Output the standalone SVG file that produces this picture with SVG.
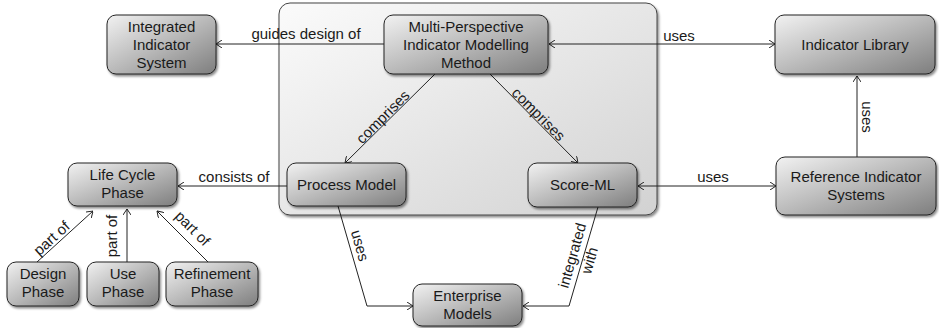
<svg xmlns="http://www.w3.org/2000/svg" width="939" height="328" viewBox="0 0 939 328">
<defs>
<linearGradient id="ng" x1="0" y1="0" x2="1" y2="1">
<stop offset="0" stop-color="#f2f2f2"/>
<stop offset="0.5" stop-color="#b9b9b9"/>
<stop offset="1" stop-color="#7e7e7e"/>
</linearGradient>
<linearGradient id="cg" x1="0" y1="0" x2="1" y2="1">
<stop offset="0" stop-color="#fbfbfb"/>
<stop offset="1" stop-color="#d2d2d2"/>
</linearGradient>
<filter id="sh" x="-10%" y="-10%" width="130%" height="140%">
<feDropShadow dx="1.5" dy="2" stdDeviation="1" flood-color="#000" flood-opacity="0.45"/>
</filter>
<marker id="ar" viewBox="0 0 6 8" refX="6" refY="4" markerWidth="6" markerHeight="8" markerUnits="userSpaceOnUse" orient="auto-start-reverse">
<path d="M0,0 L6,4 L0,8" fill="none" stroke="#222" stroke-width="1"/>
</marker>
</defs>
<style>
.n rect{fill:url(#ng);stroke:#222;stroke-width:1;filter:url(#sh)}
text{font-family:"Liberation Sans",Arial,sans-serif;font-size:15px;fill:#1a1a1a}
.n text{text-anchor:middle}
.c path,.c line{fill:none;stroke:#222;stroke-width:1}
.l text{text-anchor:middle}
</style>
<g id="container">
<rect x="279" y="3" width="378" height="212" rx="11" fill="url(#cg)" stroke="#444" stroke-width="1" filter="url(#sh)"/>
</g>
<g class="c" id="connectors">
<line x1="384" y1="44" x2="216" y2="44" marker-end="url(#ar)"/>
<line x1="549" y1="44" x2="775" y2="44" marker-start="url(#ar)" marker-end="url(#ar)"/>
<line x1="857" y1="157" x2="857" y2="76" marker-end="url(#ar)"/>
<line x1="435" y1="74" x2="345" y2="163" marker-end="url(#ar)"/>
<line x1="490" y1="74" x2="578" y2="163" marker-end="url(#ar)"/>
<line x1="287" y1="186" x2="178" y2="186" marker-end="url(#ar)"/>
<line x1="638" y1="186" x2="776" y2="186" marker-start="url(#ar)" marker-end="url(#ar)"/>
<line x1="37" y1="262" x2="93" y2="211" marker-end="url(#ar)"/>
<line x1="127" y1="262" x2="127" y2="209" marker-end="url(#ar)"/>
<line x1="208" y1="262" x2="157" y2="211" marker-end="url(#ar)"/>
<path d="M338,206 L367,306 L413,306" marker-end="url(#ar)"/>
<path d="M598,207 L569,306 L523,306" marker-end="url(#ar)"/>
</g>
<g class="l" id="labels">
<text x="306" y="39">guides design of</text>
<text x="679" y="41">uses</text>
<text transform="translate(862,117) rotate(90)">uses</text>
<text transform="translate(386.5,120.5) rotate(-45)">comprises</text>
<text transform="translate(535,118) rotate(45)">comprises</text>
<text x="234" y="182">consists of</text>
<text x="713" y="182">uses</text>
<text transform="translate(55,242) rotate(-42)">part of</text>
<text transform="translate(117,236) rotate(-90)">part of</text>
<text transform="translate(189,232) rotate(45)">part of</text>
<text transform="translate(355,247) rotate(74)">uses</text>
<g transform="translate(581,258) rotate(-74)"><text y="-4">integrated</text><text y="14">with</text></g>
</g>
<g class="n" id="integrated-indicator-system">
<rect x="107" y="15" width="109" height="59" rx="9"/>
<text x="161.5" y="32">Integrated</text><text x="161.5" y="50">Indicator</text><text x="161.5" y="68">System</text>
</g>
<g class="n" id="mpimm">
<rect x="384" y="15" width="164" height="59" rx="9"/>
<text x="466" y="32">Multi-Perspective</text><text x="466" y="50">Indicator Modelling</text><text x="466" y="68">Method</text>
</g>
<g class="n" id="indicator-library">
<rect x="775" y="15" width="160" height="59" rx="9"/>
<text x="855" y="50">Indicator Library</text>
</g>
<g class="n" id="reference-indicator-systems">
<rect x="776" y="157" width="160" height="58" rx="9"/>
<text x="856" y="182">Reference Indicator</text><text x="856" y="200">Systems</text>
</g>
<g class="n" id="process-model">
<rect x="287" y="163" width="119" height="43" rx="9"/>
<text x="346.5" y="190">Process Model</text>
</g>
<g class="n" id="score-ml">
<rect x="528" y="163" width="109" height="44" rx="9"/>
<text x="582.5" y="190">Score-ML</text>
</g>
<g class="n" id="life-cycle-phase">
<rect x="68" y="163" width="109" height="43" rx="9"/>
<text x="122.5" y="180">Life Cycle</text><text x="122.5" y="198">Phase</text>
</g>
<g class="n" id="design-phase">
<rect x="7" y="262" width="72" height="44" rx="9"/>
<text x="43" y="279">Design</text><text x="43" y="297">Phase</text>
</g>
<g class="n" id="use-phase">
<rect x="87" y="262" width="72" height="44" rx="9"/>
<text x="123" y="279">Use</text><text x="123" y="297">Phase</text>
</g>
<g class="n" id="refinement-phase">
<rect x="166" y="262" width="92" height="44" rx="9"/>
<text x="212" y="279">Refinement</text><text x="212" y="297">Phase</text>
</g>
<g class="n" id="enterprise-models">
<rect x="413" y="284" width="109" height="42" rx="9"/>
<text x="467.5" y="301">Enterprise</text><text x="467.5" y="319">Models</text>
</g>
</svg>
